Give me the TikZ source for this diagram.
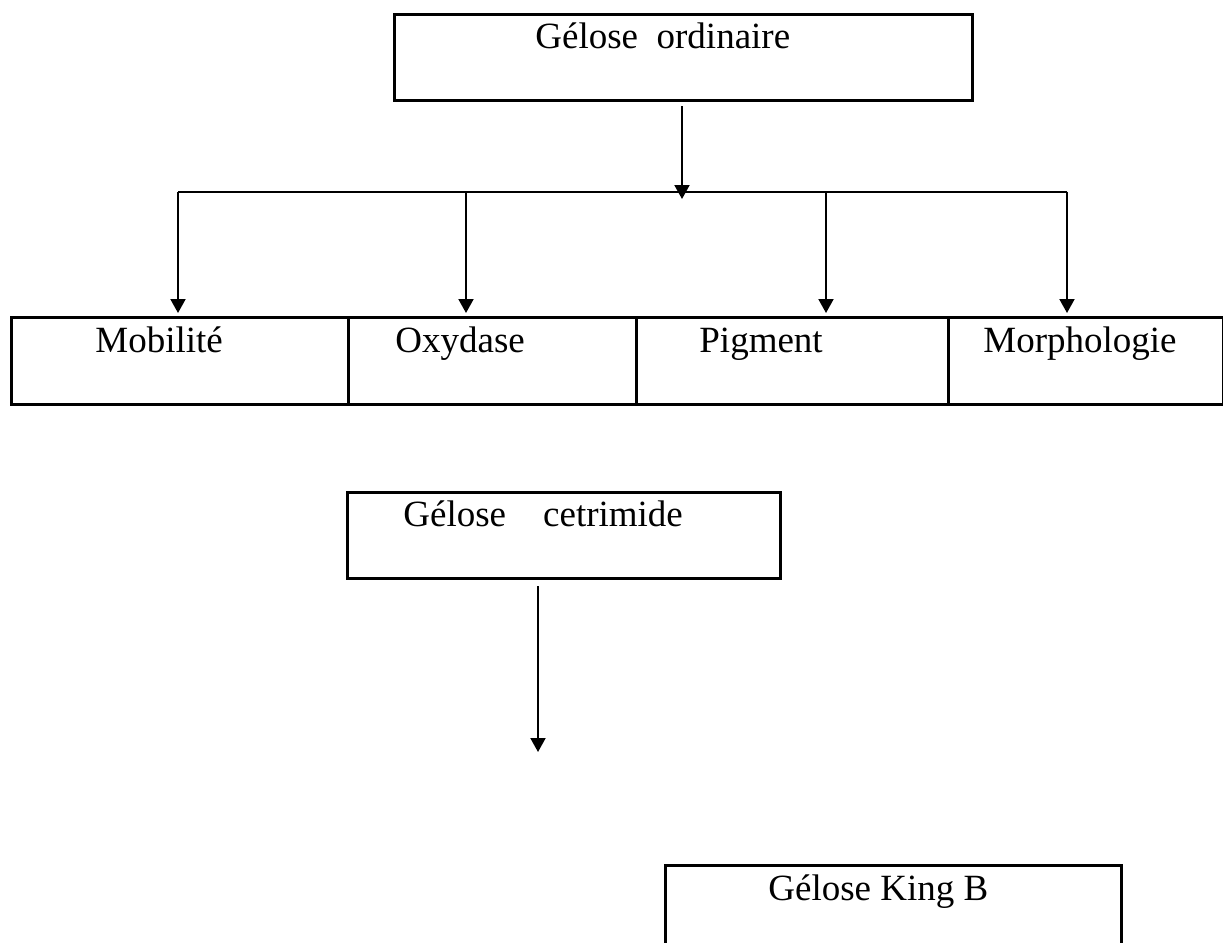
\documentclass[tikz,border=0pt]{standalone}
\usepackage{fontspec}
\setmainfont{Liberation Serif}
\usetikzlibrary{arrows.meta}
\begin{document}
\begin{tikzpicture}[x=0.5pt,y=-0.5pt,
  box/.style={draw,line width=1.5pt,inner sep=0pt,anchor=north west},
  lbl/.style={anchor=base west,inner sep=0pt,font=\fontsize{18.5pt}{22pt}\selectfont},
  conn/.style={line width=1pt},
  arr/.style={conn,-{Triangle[width=7.5pt,length=7pt]}}]
\clip (0,0) rectangle (1223,943);
% boxes
\node[box,minimum width=289pt,minimum height=43.15pt] (top) at (393,12.7) {};
\node[box,minimum width=168.5pt,minimum height=43.5pt] (mob) at (10,316) {};
\node[box,minimum width=144pt,minimum height=43.5pt] (oxy) at (347,316) {};
\node[box,minimum width=156pt,minimum height=43.5pt] (pig) at (635,316) {};
\node[box,minimum width=137.5pt,minimum height=43.5pt] (mor) at (947,316) {};
\node[box,minimum width=216.5pt,minimum height=43pt] (cet) at (346,491) {};
\node[box,minimum width=228pt,minimum height=50pt] (kin) at (664,864) {};
% texts
\node[lbl] (ttop) at (535,48) {Gélose~~ordinaire};
\node[lbl] (tmob) at (95,352) {Mobilité};
\node[lbl] (toxy) at (395,352) {Oxydase};
\node[lbl] (tpig) at (699,352) {Pigment};
\node[lbl] (tmor) at (983,352) {Morphologie};
\node[lbl] (tcet) at (403,526) {Gélose\hspace{18.5pt}cetrimide};
\node[lbl] (tkin) at (768,900) {Gélose King B};
% connectors
\coordinate (j) at (682,199);
\coordinate (b1) at (178,191.7);
\coordinate (b2) at (466,191.7);
\coordinate (b3) at (826,191.7);
\coordinate (b4) at (1067,191.7);
\coordinate (ce) at (538,752);
\draw[arr,shorten <=2pt] (top.south -| j) -- (j);
\draw[conn] (b1) -- (b4);
\draw[arr,shorten >=1.5pt] (b1) -- (b1 |- mob.north);
\draw[arr,shorten >=1.5pt] (b2) -- (b2 |- oxy.north);
\draw[arr,shorten >=1.5pt] (b3) -- (b3 |- pig.north);
\draw[arr,shorten >=1.5pt] (b4) -- (b4 |- mor.north);
\draw[arr,shorten <=3pt] (cet.south -| ce) -- (ce);
\end{tikzpicture}
\end{document}
